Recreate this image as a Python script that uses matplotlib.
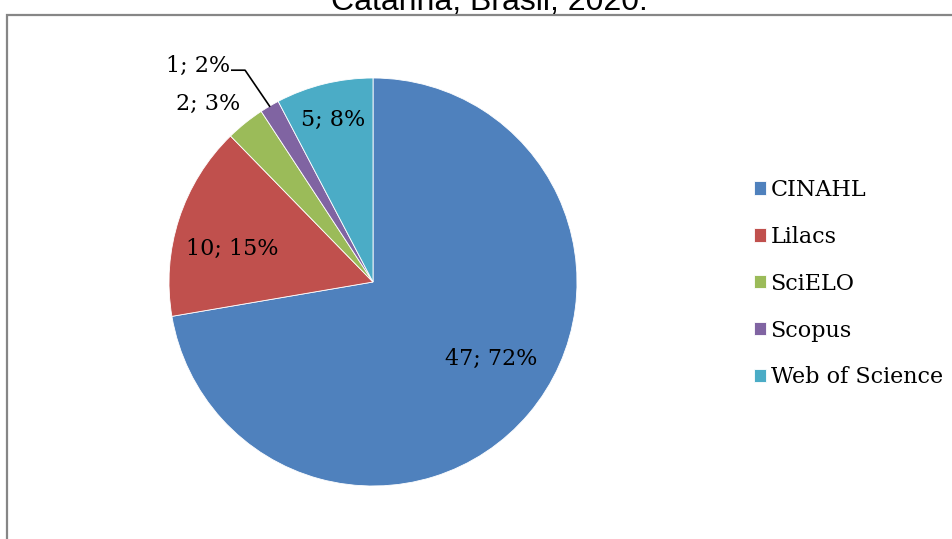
import numpy as np
import matplotlib as mpl
mpl.use("Agg")
import matplotlib.pyplot as plt
from matplotlib.patches import Rectangle

# data
bases = ["CINAHL", "Lilacs", "SciELO", "Scopus", "Web of Science"]
counts = [47, 10, 2, 1, 5]
pcts = [72, 15, 3, 2, 8]
colors = ["#4F81BD", "#C0504D", "#9BBB59", "#8064A2", "#4BACC6"]
title = "Catarina, Brasil, 2020."

# label placement (radius as fraction of pie radius, angle nudge in degrees)
lab_r = [0.69, 0.71, 1.19, 1.27, 0.82]
lab_da = [7, 5, 4, 3.1, 0]

fig = plt.figure(figsize=(9.53, 5.39), dpi=100)

# outer chart frame (cut by the image edge on right and bottom)
fig.patches.append(Rectangle((7.5 / 953, -0.1), 1.2, 1 - 15 / 539 + 0.1,
                             transform=fig.transFigure, fill=False,
                             edgecolor="#868686", linewidth=1.6))

fig.text(489 / 953, 1 - 10 / 539, title, ha="center", va="baseline",
         fontsize=23, family="Liberation Sans", color="black")

ax = fig.add_axes([169 / 953, 53 / 539, 408 / 953, 408 / 539])
wedges, _ = ax.pie(counts, colors=colors, startangle=90, counterclock=False,
                   wedgeprops=dict(edgecolor="white", linewidth=0.6))
ax.set_xlim(-1, 1)
ax.set_ylim(-1, 1)
ax.axis("off")

for i, w in enumerate(wedges):
    mid = np.deg2rad((w.theta1 + w.theta2) / 2 + lab_da[i])
    x = lab_r[i] * np.cos(mid)
    y = lab_r[i] * np.sin(mid)
    txt = f"{counts[i]}; {pcts[i]}%"
    if bases[i] == "Scopus":
        # leader line from the label to the wedge edge
        emid = np.deg2rad((w.theta1 + w.theta2) / 2)
        ex, ey = np.cos(emid), np.sin(emid)
        ax.plot([x + 0.01, x + 0.075, ex], [y - 0.02, y - 0.02, ey],
                color="black", linewidth=1.2, clip_on=False)
        ax.text(x, y, txt, ha="right", va="center", fontsize=16,
                family="DejaVu Serif", clip_on=False)
    else:
        ax.text(x, y, txt, ha="center", va="center", fontsize=16,
                family="DejaVu Serif", clip_on=False)

leg = fig.legend(wedges, bases, loc="upper left",
                 bbox_to_anchor=(745 / 953, 1 - 170 / 539),
                 frameon=False, prop={"family": "DejaVu Serif", "size": 16},
                 handlelength=0.55, handleheight=0.55, handletextpad=0.2,
                 labelspacing=1.12, borderaxespad=0)

fig.savefig("out.png", dpi=100)
